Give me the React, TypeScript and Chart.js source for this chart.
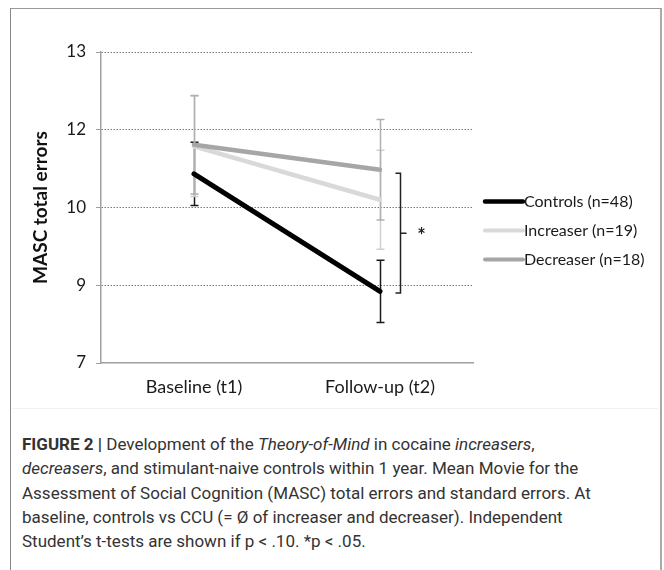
import React, { useEffect, useRef } from "react";
import { Chart, registerables } from "chart.js";

Chart.register(...registerables);

// ---- data ----
const categories = ["Baseline (t1)", "Follow-up (t2)"];
const seriesNames = ["Controls (n=48)", "Increaser (n=19)", "Decreaser (n=18)"];
const controls = [10.65, 8.38];
const increaser = [11.18, 10.15];
const decreaser = [11.21, 10.73];
const controlsSE = [0.61, 0.6];
const increaserSE = [0.97, 0.955];
const decreaserSE = [0.95, 0.97];
const yTicks = [7, 8.5, 10, 11.5, 13];
const bracketRange = [8.35, 10.66];
const sigLabel = "*";
const yTitle = "MASC total errors";

const lineColors = ["#000000", "#d9d9d9", "#a6a6a6"];
const barColors = ["#1a1a1a", "#cfcfcf", "#b0b0b0"];
const lineWidths = [5, 4.5, 4.5];
const FONT = "Lato, 'Open Sans', sans-serif";

const overlay = {
  id: "overlay",
  beforeDatasetsDraw(chart: any) {
    const { ctx, scales } = chart;
    const x = scales.x;
    const y = scales.y;
    const sets: [number[], number[], string][] = [
      [controls, controlsSE, barColors[0]],
      [increaser, increaserSE, barColors[1]],
      [decreaser, decreaserSE, barColors[2]],
    ];
    ctx.save();
    ctx.lineWidth = 1.5;
    for (const [vals, se, col] of sets) {
      ctx.strokeStyle = col;
      vals.forEach((v, i) => {
        const px = Math.round(x.getPixelForValue(i)) + 0.5;
        const yt = y.getPixelForValue(v + se[i]);
        const yb = y.getPixelForValue(v - se[i]);
        ctx.beginPath();
        ctx.moveTo(px, yt);
        ctx.lineTo(px, yb);
        ctx.moveTo(px - 4, yt);
        ctx.lineTo(px + 4, yt);
        ctx.moveTo(px - 4, yb);
        ctx.lineTo(px + 4, yb);
        ctx.stroke();
      });
    }
    ctx.restore();
  },
  afterDatasetsDraw(chart: any) {
    const { ctx, scales } = chart;
    const x = scales.x;
    const y = scales.y;
    // significance bracket
    const bx = Math.round(x.getPixelForValue(1)) + 20.5;
    const yTop = y.getPixelForValue(bracketRange[1]);
    const yBot = y.getPixelForValue(bracketRange[0]);
    const yMid = (yTop + yBot) / 2;
    ctx.save();
    ctx.strokeStyle = "#222";
    ctx.lineWidth = 1.5;
    ctx.beginPath();
    ctx.moveTo(bx - 5, yTop);
    ctx.lineTo(bx, yTop);
    ctx.lineTo(bx, yBot);
    ctx.lineTo(bx - 5, yBot);
    ctx.moveTo(bx, yMid);
    ctx.lineTo(bx + 6, yMid);
    ctx.stroke();
    ctx.fillStyle = "#222";
    ctx.font = `bold 20px ${FONT}`;
    ctx.textAlign = "center";
    ctx.textBaseline = "middle";
    ctx.fillText(sigLabel, bx + 21, yMid + 3);

    // legend
    const lx0 = chart.chartArea.right + 12;
    const lx1 = lx0 + 38;
    const rowY0 = y.getPixelForValue(10) - 6;
    ctx.font = `16px ${FONT}`;
    ctx.textAlign = "left";
    seriesNames.forEach((name, i) => {
      const ly = rowY0 + i * 29;
      ctx.strokeStyle = lineColors[i];
      ctx.lineWidth = i === 0 ? 4.5 : 4;
      ctx.lineCap = "round";
      ctx.beginPath();
      ctx.moveTo(lx0, ly);
      ctx.lineTo(lx1, ly);
      ctx.stroke();
      ctx.fillStyle = "#1a1a1a";
      ctx.fillText(name, lx1 + 1, ly);
    });
    ctx.restore();
  },
};

function ChartCanvas() {
  const ref = useRef<HTMLCanvasElement | null>(null);
  useEffect(() => {
    if (!ref.current) return;
    const series = [controls, increaser, decreaser];
    const chart = new Chart(ref.current, {
      type: "line",
      data: {
        labels: categories,
        datasets: series.map((d, i) => ({
          label: seriesNames[i],
          data: d,
          borderColor: lineColors[i],
          backgroundColor: lineColors[i],
          borderWidth: lineWidths[i],
          pointRadius: 0,
          borderCapStyle: "round",
          fill: false,
          tension: 0,
          order: i === 0 ? 0 : i === 2 ? 1 : 2,
        })),
      },
      options: {
        responsive: false,
        animation: false,
        devicePixelRatio: 1,
        layout: { padding: { left: 0, right: 191, top: 52, bottom: 0 } },
        plugins: {
          legend: { display: false },
          tooltip: { enabled: false },
          title: { display: false },
        },
        scales: {
          x: {
            type: "category",
            offset: true,
            grid: { display: false, drawTicks: false },
            border: { display: true, color: "#a0a0a0", width: 1.5 },
            ticks: {
              font: { family: FONT, size: 18 },
              color: "#1a1a1a",
              padding: 13,
              maxRotation: 0,
            },
            afterFit: (s: any) => {
              s.height = 47;
            },
          },
          y: {
            min: 7,
            max: 13,
            afterBuildTicks: (s: any) => {
              s.ticks = yTicks.map((v) => ({ value: v }));
            },
            grid: {
              color: (c: any) => (c.tick && c.tick.value === yTicks[0] ? "rgba(0,0,0,0)" : "#7a7a7a"),
              lineWidth: 1,
              drawTicks: true,
              tickLength: 5,
              tickColor: "#a0a0a0",
              tickBorderDash: [],
            },
            border: { display: true, color: "#a0a0a0", width: 1.5, dash: [1.5, 1.5] },
            ticks: {
              font: { family: FONT, size: 17 },
              color: "#1a1a1a",
              padding: 10,
              callback: (v: any) => String(Math.round(Number(v))),
            },
            title: {
              display: true,
              text: yTitle,
              font: { family: FONT, size: 19, weight: "bold" },
              color: "#111",
              padding: { top: 29, bottom: 0 },
            },
            afterFit: (s: any) => {
              s.width = 101;
            },
          },
        },
      },
      plugins: [overlay],
    });
    return () => chart.destroy();
  }, []);
  return (
    <canvas
      ref={ref}
      width={664}
      height={410}
      style={{ position: "absolute", left: 0, top: 0, width: 664, height: 410 }}
    />
  );
}

export default function App() {
  const cap: React.CSSProperties = {
    position: "absolute",
    left: 22,
    top: 432,
    fontFamily: "Roboto, 'Liberation Sans', sans-serif",
    fontSize: 17,
    lineHeight: "24.3px",
    color: "#333",
    whiteSpace: "nowrap",
  };
  return (
    <div
      style={{
        position: "fixed",
        left: 0,
        top: 0,
        width: 664,
        height: 570,
        background: "#fff",
        overflow: "hidden",
      }}
    >
      <div
        style={{
          position: "absolute",
          left: 10,
          top: 8,
          width: 649,
          height: 620,
          borderLeft: "1px solid #888",
          borderTop: "1px solid #999",
          borderRight: "2px solid #aaa",
        }}
      />
      <div
        style={{
          position: "absolute",
          left: 12,
          top: 408,
          width: 646,
          height: 1,
          background: "#f2f2f2",
        }}
      />
      <ChartCanvas />
      <div style={cap}>
        <b>FIGURE 2 |</b> Development of the <i>Theory-of-Mind</i> in cocaine <i>increasers</i>,
        <br />
        <i>decreasers</i>, and stimulant-naive controls within 1 year. Mean Movie for the
        <br />
        Assessment of Social Cognition (MASC) total errors and standard errors. At
        <br />
        baseline, controls vs CCU (= Ø of increaser and decreaser). Independent
        <br />
        Student’s t-tests are shown if p &lt; .10. *p &lt; .05.
      </div>
    </div>
  );
}
